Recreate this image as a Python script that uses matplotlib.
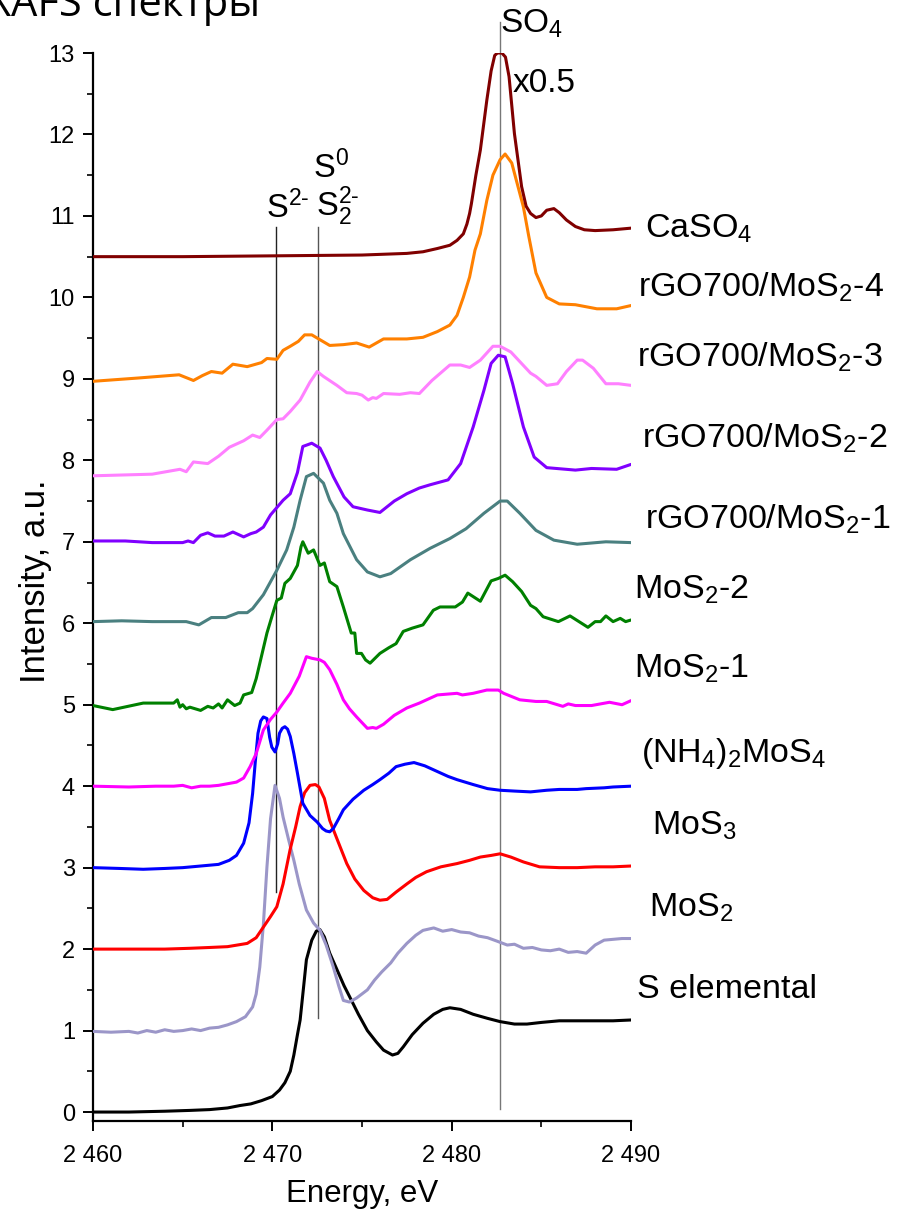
import matplotlib
matplotlib.use("Agg")
import matplotlib.pyplot as plt
from matplotlib.ticker import MultipleLocator, FuncFormatter

plt.rcParams['font.family'] = ['Liberation Sans', 'DejaVu Sans']
plt.rcParams['mathtext.fontset'] = 'custom'
plt.rcParams['mathtext.rm'] = 'Liberation Sans'
plt.rcParams['mathtext.it'] = 'Liberation Sans:italic'
plt.rcParams['mathtext.bf'] = 'Liberation Sans:bold'

# ---------------- data ----------------
s_el_E = [2460, 2462, 2464, 2465.4, 2466.5, 2467.5, 2468.2, 2468.8, 2469.4, 2470.0, 2470.4, 2470.7, 2471.0, 2471.2,
          2471.4, 2471.55, 2471.75, 2471.9, 2472.2, 2472.45, 2472.65, 2472.9, 2473.2, 2473.6, 2474.0, 2474.3,
          2474.8, 2475.3, 2475.8, 2476.2, 2476.7, 2477.0, 2477.3, 2477.8, 2478.4, 2479.0, 2479.5, 2479.9, 2480.5,
          2481.2, 2482.0, 2482.7, 2483.5, 2484.2, 2485.0, 2486, 2487, 2488, 2489, 2490]
s_el_I = [0.0, 0.0, 0.01, 0.02, 0.03, 0.05, 0.08, 0.10, 0.14, 0.19, 0.27, 0.36, 0.50, 0.70,
          0.95, 1.13, 1.55, 1.87, 2.11, 2.22, 2.24, 2.15, 1.95, 1.75, 1.55, 1.42,
          1.2, 1.0, 0.86, 0.76, 0.70, 0.72, 0.80, 0.95, 1.09, 1.2, 1.26, 1.28, 1.26,
          1.2, 1.15, 1.11, 1.08, 1.08, 1.10, 1.12, 1.12, 1.12, 1.12, 1.13]

mos2_E = [2460, 2461, 2462, 2462.5, 2463, 2463.5, 2464, 2464.5, 2465, 2465.5, 2466, 2466.5, 2467, 2467.5, 2468,
          2468.5, 2468.9, 2469.1, 2469.3, 2469.5, 2469.7, 2469.9, 2470.15, 2470.4, 2470.6, 2470.9, 2471.2, 2471.5,
          2471.9, 2472.3, 2472.66, 2473.0, 2473.4, 2473.7, 2473.96, 2474.3, 2474.7, 2475.0, 2475.3, 2475.7, 2476.1,
          2476.6, 2477.0, 2477.5, 2478.0, 2478.4, 2479.0, 2479.5, 2480.0, 2480.5, 2481.0, 2481.5, 2482.0, 2482.5,
          2483.1, 2483.5, 2484.0, 2484.5, 2485.0, 2485.5, 2486.0, 2486.5, 2487.0, 2487.5, 2488.0, 2488.5, 2489,
          2489.5, 2490]
mos2_I = [0.99, 0.98, 0.99, 0.97, 1.0, 0.98, 1.01, 0.99, 1.0, 1.02, 1.0, 1.03, 1.04, 1.07, 1.11,
          1.17, 1.29, 1.45, 1.78, 2.3, 3.01, 3.6, 4.01, 3.85, 3.62, 3.35, 3.09, 2.8,
          2.48, 2.32, 2.23, 2.05, 1.78, 1.55, 1.37, 1.35, 1.40, 1.45, 1.50, 1.62, 1.72,
          1.83, 1.95, 2.07, 2.17, 2.23, 2.26, 2.22, 2.24, 2.21, 2.2, 2.16, 2.14, 2.10,
          2.05, 2.06, 2.01, 2.02, 1.99, 1.98, 2.0, 1.96, 1.97, 1.95, 2.05, 2.11, 2.12,
          2.13, 2.13]

mos3_E = [2460, 2462, 2464, 2465.4, 2466.5, 2467.5, 2468.6, 2469.1, 2469.5, 2469.9, 2470.25, 2470.6, 2470.99,
          2471.3, 2471.55, 2471.8, 2472.1, 2472.4, 2472.6, 2472.9, 2473.2, 2473.7, 2474.15, 2474.6, 2475.1,
          2475.6, 2476.0, 2476.4, 2476.9, 2477.5, 2478.0, 2478.6, 2479.4, 2480.3, 2481.0, 2481.6, 2482.2,
          2482.7, 2483.3, 2484.0, 2484.9, 2486, 2487, 2488, 2489, 2490]
mos3_I = [2.0, 2.0, 2.0, 2.01, 2.02, 2.03, 2.07, 2.14, 2.27, 2.40, 2.52, 2.8, 3.22,
          3.5, 3.75, 3.92, 4.01, 4.02, 3.99, 3.85, 3.58, 3.3, 3.05, 2.86, 2.72,
          2.63, 2.60, 2.61, 2.70, 2.80, 2.88, 2.95, 3.01, 3.05, 3.09, 3.13, 3.15,
          3.17, 3.13, 3.07, 3.01, 3.0, 3.0, 3.01, 3.01, 3.02]

tm_E = [2460, 2461.5, 2462.8, 2464, 2465, 2466.0, 2467.0, 2467.6, 2468.0, 2468.4, 2468.7, 2468.9, 2469.05,
        2469.2, 2469.35, 2469.5, 2469.7, 2469.85, 2469.97, 2470.15, 2470.3, 2470.4, 2470.55, 2470.7, 2470.85,
        2471.0, 2471.2, 2471.4, 2471.7, 2472.1, 2472.5, 2472.8, 2473.0, 2473.2, 2473.4, 2473.7, 2473.96,
        2474.5, 2475.1, 2475.6, 2476.0, 2476.5, 2476.9, 2477.4, 2477.9, 2478.5, 2479.2, 2479.8, 2480.3,
        2481.2, 2482.0, 2482.7, 2483.5, 2484.4, 2485.3, 2486.0, 2487.0, 2487.5, 2488.5, 2489.0, 2490]
tm_I = [3.0, 2.99, 2.98, 2.99, 3.0, 3.02, 3.04, 3.09, 3.15, 3.30, 3.55, 3.91, 4.3,
        4.65, 4.8, 4.85, 4.83, 4.6, 4.48, 4.42, 4.52, 4.65, 4.71, 4.73, 4.7,
        4.61, 4.4, 4.16, 3.79, 3.64, 3.56, 3.48, 3.45, 3.44, 3.48, 3.6, 3.71,
        3.84, 3.95, 4.02, 4.08, 4.16, 4.24, 4.27, 4.29, 4.25, 4.18, 4.12, 4.08,
        4.02, 3.97, 3.95, 3.94, 3.93, 3.95, 3.96, 3.96, 3.97, 3.98, 3.99, 4.0]

m1_E = [2460, 2462, 2463.5, 2464.5, 2465, 2465.5, 2466, 2466.5, 2467, 2467.5, 2468.0, 2468.4, 2468.76, 2469.1,
        2469.5, 2469.9, 2470.25, 2470.6, 2471.0, 2471.5, 2471.9, 2472.2, 2472.66, 2472.9, 2473.2, 2473.6,
        2473.96, 2474.3, 2474.7, 2475.0, 2475.3, 2475.6, 2475.8, 2476.2, 2476.8, 2477.5, 2478.2, 2478.6,
        2479.2, 2480.3, 2480.6, 2481.2, 2481.96, 2482.6, 2482.9, 2483.8, 2484.7, 2485.3, 2486.2, 2486.5,
        2486.9, 2487.8, 2488.8, 2489.5, 2490]
m1_I = [4.0, 3.99, 4.0, 4.0, 4.01, 3.98, 4.0, 4.0, 4.01, 4.03, 4.05, 4.1, 4.24, 4.4,
        4.69, 4.82, 4.91, 5.02, 5.14, 5.35, 5.59, 5.57, 5.55, 5.52, 5.43, 5.25,
        5.06, 4.95, 4.85, 4.78, 4.71, 4.72, 4.71, 4.76, 4.87, 4.96, 5.02, 5.06,
        5.12, 5.14, 5.12, 5.14, 5.18, 5.18, 5.14, 5.06, 5.04, 5.04, 4.98, 5.01,
        4.99, 4.99, 5.03, 5.0, 5.05]

m2_E = [2460, 2461.1, 2462.8, 2464.5, 2464.7, 2464.85, 2465.0, 2465.2, 2465.4, 2466.0, 2466.4, 2466.7, 2467.0,
        2467.2, 2467.5, 2467.9, 2468.2, 2468.4, 2468.85, 2469.1, 2469.4, 2469.7, 2470.0, 2470.25, 2470.5,
        2470.7, 2471.0, 2471.4, 2471.6, 2471.7, 2472.0, 2472.3, 2472.66, 2472.9, 2473.2, 2473.6, 2473.96,
        2474.4, 2474.6, 2474.7, 2474.97, 2475.2, 2475.45, 2476.0, 2476.5, 2476.9, 2477.3, 2477.8, 2478.4,
        2478.98, 2479.35, 2480.2, 2480.6, 2480.9, 2481.6, 2482.2, 2482.6, 2482.98, 2483.4, 2483.9, 2484.4,
        2484.7, 2485.1, 2485.95, 2486.6, 2487.6, 2488.0, 2488.3, 2488.6, 2489.0, 2489.4, 2489.7, 2490]
m2_I = [4.99, 4.94, 5.02, 5.02, 5.06, 4.97, 5.0, 4.95, 4.97, 4.93, 4.98, 4.96, 5.01,
        4.96, 5.06, 4.99, 5.02, 5.12, 5.15, 5.32, 5.6, 5.88, 6.1, 6.28, 6.31,
        6.49, 6.55, 6.71, 6.94, 7.0, 6.86, 6.90, 6.71, 6.74, 6.51, 6.45, 6.20,
        5.88, 5.88, 5.63, 5.63, 5.55, 5.51, 5.63, 5.70, 5.75, 5.90, 5.94, 5.98,
        6.16, 6.20, 6.20, 6.26, 6.37, 6.27, 6.52, 6.55, 6.59, 6.51, 6.39, 6.22,
        6.18, 6.08, 6.02, 6.09, 5.95, 6.02, 6.02, 6.09, 6.02, 6.06, 6.02, 6.04]

r1_E = [2460, 2461.6, 2463.3, 2465.2, 2465.9, 2466.6, 2467.4, 2468.1, 2468.6, 2468.9, 2469.5, 2470.25, 2470.8,
        2471.2, 2471.55, 2471.9, 2472.3, 2472.85, 2473.2, 2473.6, 2473.96, 2474.7, 2475.3, 2476.0, 2476.6,
        2477.7, 2478.8, 2479.9, 2480.8, 2481.8, 2482.7, 2483.1, 2483.8, 2484.7, 2485.7, 2487.0, 2488.6, 2490]
r1_I = [6.02, 6.03, 6.02, 6.02, 5.98, 6.07, 6.07, 6.13, 6.13, 6.18, 6.35, 6.65, 6.90,
        7.18, 7.51, 7.80, 7.84, 7.72, 7.51, 7.35, 7.10, 6.78, 6.63, 6.57, 6.61,
        6.78, 6.92, 7.04, 7.16, 7.35, 7.50, 7.50, 7.35, 7.14, 7.02, 6.97, 7.00, 6.99]

r2_E = [2460, 2461.8, 2463.3, 2465.0, 2465.3, 2465.6, 2466.0, 2466.4, 2466.8, 2467.3, 2467.8, 2468.4, 2468.8,
        2469.1, 2469.5, 2469.9, 2470.6, 2471.0, 2471.4, 2471.7, 2472.2, 2472.66, 2473.0, 2473.4, 2474.0,
        2474.5, 2475.3, 2476.0, 2476.8, 2477.5, 2478.2, 2478.8, 2479.8, 2480.5, 2481.2, 2481.8, 2482.2,
        2482.6, 2482.98, 2483.4, 2484.0, 2484.6, 2485.3, 2486.9, 2487.8, 2489.2, 2490]
r2_I = [7.01, 7.01, 6.99, 6.99, 7.01, 6.99, 7.08, 7.11, 7.07, 7.07, 7.12, 7.06, 7.10,
        7.12, 7.18, 7.33, 7.51, 7.59, 7.85, 8.17, 8.21, 8.15, 8.0, 7.80, 7.55,
        7.43, 7.39, 7.36, 7.50, 7.59, 7.66, 7.70, 7.76, 7.96, 8.41, 8.86, 9.19,
        9.29, 9.27, 8.94, 8.41, 8.04, 7.91, 7.88, 7.90, 7.89, 7.95]

r3_E = [2460, 2463.3, 2464.85, 2465.2, 2465.6, 2466.4, 2467.0, 2467.6, 2468.4, 2468.9, 2469.3, 2469.7, 2470.25,
        2470.6, 2471.0, 2471.55, 2472.1, 2472.5, 2472.85, 2473.6, 2474.15, 2474.7, 2475.0, 2475.35, 2475.6,
        2475.8, 2476.2, 2477.1, 2477.7, 2478.2, 2478.9, 2479.9, 2480.5, 2481.0, 2481.6, 2482.3, 2482.7,
        2483.3, 2484.4, 2484.7, 2485.3, 2485.9, 2486.4, 2487.0, 2487.3, 2487.9, 2488.6, 2489.3, 2490]
r3_I = [7.81, 7.83, 7.89, 7.86, 7.98, 7.96, 8.05, 8.16, 8.24, 8.31, 8.28, 8.37, 8.50,
        8.51, 8.60, 8.74, 8.96, 9.09, 9.03, 8.92, 8.83, 8.82, 8.80, 8.74, 8.77,
        8.76, 8.82, 8.81, 8.83, 8.82, 8.98, 9.17, 9.17, 9.14, 9.23, 9.40, 9.40,
        9.33, 9.07, 9.03, 8.92, 8.94, 9.09, 9.23, 9.23, 9.13, 8.94, 8.94, 8.92]

r4_E = [2460, 2462.5, 2464.8, 2465.6, 2466.1, 2466.6, 2467.2, 2467.8, 2468.6, 2469.4, 2469.7, 2470.25, 2470.6,
        2471.0, 2471.45, 2471.8, 2472.2, 2472.66, 2473.2, 2473.96, 2474.7, 2475.4, 2476.2, 2477.5, 2478.4,
        2479.2, 2479.9, 2480.3, 2480.65, 2481.0, 2481.3, 2481.6, 2481.96, 2482.3, 2482.7, 2482.98, 2483.35,
        2484.0, 2484.3, 2484.7, 2485.3, 2486.0, 2486.9, 2488.1, 2489.2, 2490]
r4_I = [8.97, 9.01, 9.05, 8.98, 9.04, 9.09, 9.07, 9.18, 9.15, 9.20, 9.25, 9.24, 9.35,
        9.40, 9.46, 9.54, 9.54, 9.48, 9.41, 9.42, 9.44, 9.39, 9.49, 9.49, 9.51,
        9.58, 9.66, 9.78, 10.0, 10.25, 10.58, 10.78, 11.19, 11.5, 11.69, 11.76, 11.65,
        11.11, 10.75, 10.3, 10.0, 9.92, 9.91, 9.86, 9.86, 9.90]

caso4_E = [2460, 2465, 2470, 2475, 2477.5, 2478.4, 2479.2, 2479.9, 2480.3, 2480.65, 2480.85, 2481.0, 2481.1,
           2481.35, 2481.6, 2481.96, 2482.2, 2482.4, 2482.55, 2482.8, 2483.0, 2483.2, 2483.5, 2483.9, 2484.15,
           2484.4, 2484.7, 2485.0, 2485.3, 2485.7, 2486.0, 2486.4, 2486.9, 2487.4, 2488.0, 2489.0, 2490]
caso4_I = [10.5, 10.5, 10.51, 10.52, 10.54, 10.56, 10.6, 10.64, 10.7, 10.78, 10.9, 11.03, 11.15,
           11.5, 11.81, 12.42, 12.78, 12.97, 13.0, 13.0, 12.95, 12.71, 12.01, 11.36, 11.12,
           11.03, 10.98, 11.0, 11.07, 11.09, 11.04, 10.95, 10.87, 10.83, 10.82, 10.83, 10.85]

series = [
    (s_el_E, s_el_I, 'black'),
    (mos2_E, mos2_I, '#9b96c8'),
    (mos3_E, mos3_I, '#ff0000'),
    (tm_E, tm_I, '#0000ff'),
    (m1_E, m1_I, '#ff00ff'),
    (m2_E, m2_I, '#008000'),
    (r1_E, r1_I, '#4a8080'),
    (r2_E, r2_I, '#8000ff'),
    (r3_E, r3_I, '#ff80ff'),
    (r4_E, r4_I, '#ff8000'),
    (caso4_E, caso4_I, '#800000'),
]

curve_labels = ['S elemental', r'MoS$_2$', r'MoS$_3$', r'(NH$_4$)$_2$MoS$_4$', r'MoS$_2$-1', r'MoS$_2$-2',
                r'rGO700/MoS$_2$-1', r'rGO700/MoS$_2$-2', r'rGO700/MoS$_2$-3', r'rGO700/MoS$_2$-4', r'CaSO$_4$']

# reference lines: energy, y from, y to
ref_E = [2470.2, 2472.55, 2482.7]
ref_lo = [2.70, 1.15, 0.04]
ref_hi = [10.87, 10.87, 13.38]

# ---------------- figure ----------------
W, H = 919, 1218
fig = plt.figure(figsize=(W / 100, H / 100), dpi=100)
ax = fig.add_axes([93 / W, 1 - 1121 / H, (631 - 93) / W, (1121 - 53) / H])

def px(x, y):
    return x / W, 1 - y / H

for E, I, c in series:
    ax.plot(E, I, color=c, lw=2.2, solid_joinstyle='round', solid_capstyle='round', zorder=3)

ref_colors = ['#222222', '#555555', '#777777']
for e, lo, hi, c in zip(ref_E, ref_lo, ref_hi, ref_colors):
    ax.plot([e, e], [lo, hi], color=c, lw=1.0, zorder=2, clip_on=False)

ax.set_xlim(2460, 2490)
ax.set_ylim(-0.11, 13)
for s in ['top', 'right']:
    ax.spines[s].set_visible(False)
for s in ['left', 'bottom']:
    ax.spines[s].set_linewidth(1.6)

ax.xaxis.set_major_locator(MultipleLocator(10))
ax.xaxis.set_minor_locator(MultipleLocator(5))
ax.yaxis.set_major_locator(MultipleLocator(1))
ax.yaxis.set_minor_locator(MultipleLocator(0.5))
ax.xaxis.set_major_formatter(FuncFormatter(lambda v, p: f"{int(v):,}".replace(',', ' ')))
ax.yaxis.set_major_formatter(FuncFormatter(lambda v, p: f"{int(round(v))}"))
ax.tick_params(which='major', direction='out', length=7, width=1.4, labelsize=17, pad=6)
ax.tick_params(which='minor', direction='out', length=4, width=1.2)
ax.tick_params(axis='x', which='major', pad=10)

ax.set_xlabel('Energy, eV', fontsize=22.5, labelpad=9)
ax.set_ylabel('Intensity, a.u.', fontsize=25)
ax.yaxis.set_label_coords((52 - 93) / 538, 0.505)

# curve labels (left x px, baseline y px)
lab_pos = [(637, 998), (649, 917), (652, 835), (641, 762), (634, 678), (634, 599),
           (645, 529), (642, 448), (637, 367), (638, 297), (645, 238)]
for (lx, ly), t in zip(lab_pos, curve_labels):
    fig.text(*px(lx, ly), t, fontsize=24.5, ha='left', va='baseline')

# peak annotations
fig.text(*px(266, 218), r'S$^{2\text{-}}$', fontsize=23.5, ha='left', va='baseline')
fig.text(*px(316, 216), r'S$_2^{2\text{-}}$', fontsize=23.5, ha='left', va='baseline')
fig.text(*px(313, 178), r'S$^0$', fontsize=23.5, ha='left', va='baseline')
fig.text(*px(500, 33), r'SO$_4$', fontsize=24, ha='left', va='baseline')
fig.text(*px(513, 92), 'x0.5', fontsize=24, ha='left', va='baseline')

# cut-off title
fig.text(*px(260, 16), 'XAFS спектры', fontsize=30, ha='right', va='baseline',
         family=['Open Sans', 'DejaVu Sans'])

fig.savefig('out.png', dpi=100)
